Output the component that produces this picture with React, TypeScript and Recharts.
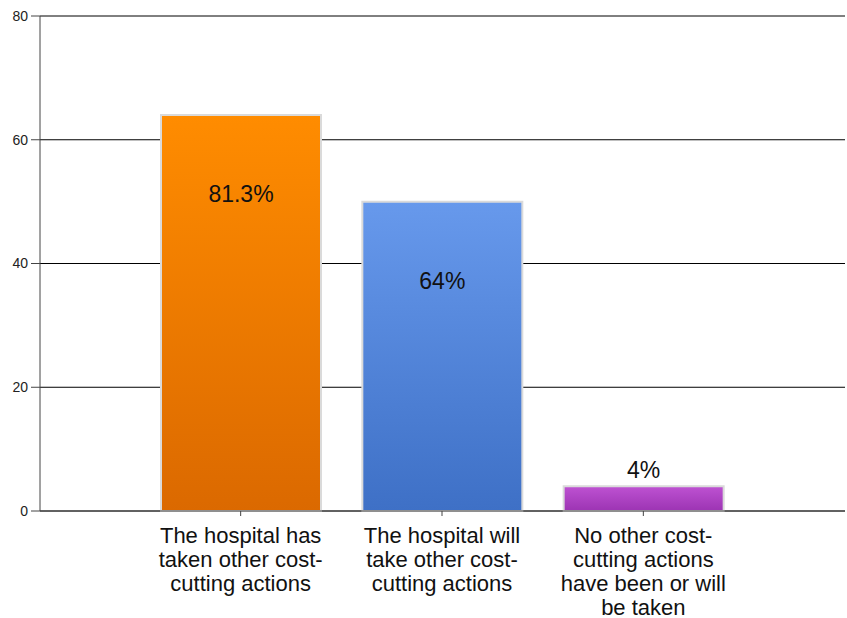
import { BarChart, Bar, XAxis, YAxis, CartesianGrid, Cell, LabelList } from "recharts";

const categories = [
  "The hospital has\ntaken other cost-\ncutting actions",
  "The hospital will\ntake other cost-\ncutting actions",
  "No other cost-\ncutting actions\nhave been or will\nbe taken",
];
const values = [64, 50, 4];
const barLabels = ["81.3%", "64%", "4%"];
const yTicks = [0, 20, 40, 60, 80];

const gradients = [
  { id: "gOrange", top: "#FF8C00", bottom: "#DB6900" },
  { id: "gBlue", top: "#6799EC", bottom: "#3E70C6" },
  { id: "gPurple", top: "#BE52D2", bottom: "#9C34B3" },
];

const data = categories.map((name, i) => ({ name, value: values[i], label: barLabels[i] }));

const font = "Arial, 'Liberation Sans', sans-serif";

const CategoryTick = ({ x, y, payload }: any) => {
  const lines = String(payload.value).split("\n");
  return (
    <text x={x} y={y + 17} textAnchor="middle" fontSize={22} fontFamily={font} fill="#111">
      {lines.map((l, i) => (
        <tspan key={i} x={x} dy={i === 0 ? 0 : 24} dominantBaseline="central">
          {l}
        </tspan>
      ))}
    </text>
  );
};

const BarText = ({ x, y, width, height, index }: any) => {
  const inside = height > 100;
  return (
    <text
      x={x + width / 2}
      y={inside ? y + 79 : y - 16}
      textAnchor="middle"
      dominantBaseline="central"
      fontSize={23}
      fontFamily={font}
      fill="#111"
    >
      {barLabels[index]}
    </text>
  );
};

export default function App() {
  return (
    <div style={{ position: "absolute", left: 0, top: 0, background: "#fff" }}>
      <BarChart
        width={847}
        height={618}
        data={data}
        margin={{ top: 16, right: 2, bottom: 7, left: 0 }}
      >
        <defs>
          {gradients.map((g) => (
            <linearGradient key={g.id} id={g.id} x1="0" y1="0" x2="0" y2="1">
              <stop offset="0%" stopColor={g.top} />
              <stop offset="100%" stopColor={g.bottom} />
            </linearGradient>
          ))}
        </defs>
        <CartesianGrid vertical={false} stroke="#000" strokeWidth={1} />
        <XAxis
          dataKey="name"
          interval={0}
          padding={{ left: 100, right: 101 }}
          height={100}
          tick={<CategoryTick />}
          tickSize={5}
          axisLine={{ stroke: "#444" }}
          tickLine={{ stroke: "#444" }}
        />
        <YAxis
          width={40}
          domain={[0, 80]}
          ticks={yTicks}
          interval={0}
          tickSize={9}
          tickMargin={3}
          axisLine={{ stroke: "#444" }}
          tickLine={{ stroke: "#444" }}
          tick={{ fontSize: 14, fill: "#222", fontFamily: font }}
        />
        <Bar dataKey="value" barSize={160} stroke="#DADADA" strokeWidth={2} isAnimationActive={false}>
          {data.map((d, i) => (
            <Cell key={d.name} fill={`url(#${gradients[i].id})`} />
          ))}
          <LabelList dataKey="label" content={<BarText />} />
        </Bar>
      </BarChart>
    </div>
  );
}
